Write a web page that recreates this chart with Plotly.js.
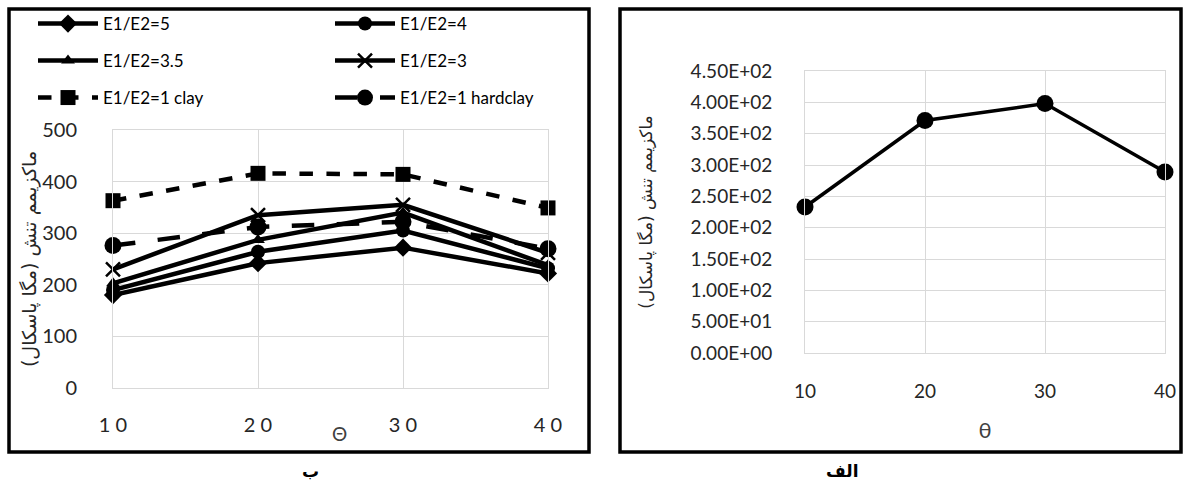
<!DOCTYPE html>
<html>
<head>
<meta charset="utf-8">
<script src="https://cdn.plot.ly/plotly-3.0.1.min.js"></script>
<style>html,body{margin:0;padding:0;background:#fff;overflow:hidden;}#chart{width:1190px;height:486px;}</style>
</head>
<body>
<div id="chart"></div>
<script>
// Left chart (ب)
const theta = [10, 20, 30, 40];
const ratio5 = [180, 242, 272, 222];
const ratio4 = [190, 264, 305, 232];
const ratio35 = [203, 287, 340, 238];
const ratio3 = [230, 335, 355, 262];
const clay1 = [363, 416, 414, 349];
const hardclay1 = [276, 312, 322, 270];
const leftYTicks = [0, 100, 200, 300, 400, 500];
const leftXTickText = ['1 0', '2 0', '3 0', '4 0'];
// Right chart (الف)
const thetaR = [10, 20, 30, 40];
const stressR = [233, 371, 398, 289];
const rightYTicks = [0, 50, 100, 150, 200, 250, 300, 350, 400, 450];
const rightYTickText = ['0.00E+00','5.00E+01','1.00E+02','1.50E+02','2.00E+02','2.50E+02','3.00E+02','3.50E+02','4.00E+02','4.50E+02'];
const yTitle = 'ماکزیمم تنش (مگا پاسکال)';

const W = 1190, H = 486;
const px = v => v / W;
const py = v => 1 - v / H;
const F = 'Lato, "Open Sans", "DejaVu Sans", sans-serif';
const AF = '"DejaVu Sans", "Noto Sans", sans-serif';

function tr(name, y, sym, size, dash, leg, extra) {
  const m = {symbol: sym, size: size, color: '#000', line: {color: '#000', width: 0}};
  if (extra) Object.assign(m.line, extra);
  return {x: theta, y: y, name: name, type: 'scatter', mode: 'lines+markers',
    xaxis: 'x', yaxis: 'y', legend: leg, cliponaxis: false,
    line: {color: '#000', width: 4.5, dash: dash}, marker: m};
}

const data = [
  tr('E1/E2=1 clay', clay1, 'square', 15, 'dash', 'legend3'),
  tr('E1/E2=1 hardclay', hardclay1, 'circle', 17, 'longdash', 'legend3'),
  tr('E1/E2=5', ratio5, 'diamond', 14, 'solid', 'legend'),
  tr('E1/E2=4', ratio4, 'circle', 14, 'solid', 'legend'),
  tr('E1/E2=3.5', ratio35, 'triangle-up', 12, 'solid', 'legend2'),
  tr('E1/E2=3', ratio3, 'x-thin', 14, 'solid', 'legend2', {width: 2.5}),
  {x: thetaR, y: stressR, type: 'scatter', mode: 'lines+markers', xaxis: 'x2', yaxis: 'y2',
   showlegend: false, cliponaxis: false, line: {color: '#000', width: 3.5},
   marker: {symbol: 'circle', size: 17, color: '#000'}}
];
data[2].legendrank = 1; data[3].legendrank = 2;
data[4].legendrank = 1; data[5].legendrank = 2;
data[0].legendrank = 1; data[1].legendrank = 2;

function legendCfg(yc) {
  return {orientation: 'h', x: px(33), xanchor: 'left', y: py(yc), yanchor: 'middle',
    entrywidth: 222, entrywidthmode: 'pixels', itemwidth: 60, bgcolor: 'rgba(0,0,0,0)',
    font: {family: F, size: 17, color: '#000'}, traceorder: 'normal'};
}

const grid = '#d9d9d9';
const layout = {
  width: W, height: H, autosize: false,
  margin: {l: 0, r: 0, t: 0, b: 0},
  paper_bgcolor: '#fff', plot_bgcolor: '#fff',
  font: {family: F, color: '#404040'},
  xaxis: {domain: [px(113), px(548)], range: [10, 40], tickvals: theta, ticktext: leftXTickText,
    showgrid: true, gridcolor: grid, gridwidth: 1, zeroline: false,
    showline: true, mirror: true, linecolor: grid, linewidth: 1, ticks: '',
    ticklabelstandoff: 19, tickfont: {family: F, size: 20, color: '#262626'},
    anchor: 'y', fixedrange: true},
  yaxis: {domain: [py(388), py(130)], range: [0, 500], tickvals: leftYTicks,
    showgrid: true, gridcolor: grid, gridwidth: 1, zeroline: false,
    showline: true, mirror: true, linecolor: grid, linewidth: 1, ticks: '',
    ticklabelstandoff: 31, tickfont: {family: F, size: 20, color: '#262626'},
    title: {text: yTitle, font: {family: AF, size: 19, color: '#262626'}, standoff: 0},
    anchor: 'x', fixedrange: true},
  xaxis2: {domain: [px(805), px(1165)], range: [10, 40], tickvals: thetaR,
    showgrid: true, gridcolor: grid, gridwidth: 1, zeroline: false,
    showline: true, mirror: true, linecolor: grid, linewidth: 1, ticks: '',
    ticklabelstandoff: 21, tickfont: {family: F, size: 19, color: '#262626'},
    title: {text: 'θ', font: {family: F, size: 22, color: '#404040'}, standoff: 21},
    anchor: 'y2', fixedrange: true},
  yaxis2: {domain: [py(353), py(71)], range: [0, 450], tickvals: rightYTicks, ticktext: rightYTickText,
    showgrid: true, gridcolor: grid, gridwidth: 1, zeroline: false,
    showline: true, mirror: true, linecolor: grid, linewidth: 1, ticks: '',
    ticklabelstandoff: 28, tickfont: {family: F, size: 19, color: '#262626'},
    title: {text: yTitle, font: {family: AF, size: 17, color: '#262626'}, standoff: 33},
    anchor: 'x2', fixedrange: true},
  legend: legendCfg(24),
  legend2: legendCfg(61),
  legend3: legendCfg(98),
  shapes: [
    {type: 'rect', xref: 'paper', yref: 'paper', x0: px(9), x1: px(589), y0: py(452), y1: py(9),
     line: {color: '#000', width: 3.5}},
    {type: 'rect', xref: 'paper', yref: 'paper', x0: px(620), x1: px(1181), y0: py(452), y1: py(9),
     line: {color: '#000', width: 3.5}}
  ],
  annotations: [
    {text: 'Θ', xref: 'paper', yref: 'paper', x: px(330), y: py(433), yanchor: 'middle', showarrow: false,
     font: {family: F, size: 19, color: '#404040'}},
    {text: '<b>ب</b>', xref: 'paper', yref: 'paper', x: px(300), y: py(471), yanchor: 'middle', showarrow: false,
     font: {family: AF, size: 17, color: '#000'}},
    {text: '<b>الف</b>', xref: 'paper', yref: 'paper', x: px(860), y: py(471), yanchor: 'middle', showarrow: false,
     font: {family: AF, size: 17, color: '#000'}}
  ]
};

Plotly.newPlot('chart', data, layout, {staticPlot: true, displayModeBar: false});
</script>
</body>
</html>
